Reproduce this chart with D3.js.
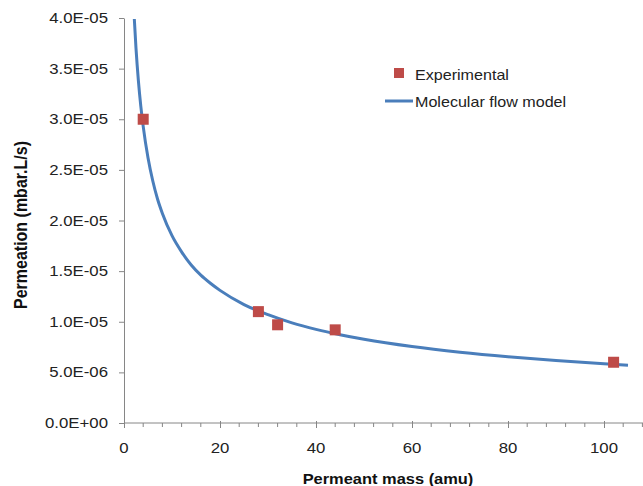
<!DOCTYPE html>
<html><head><meta charset="utf-8">
<script src="https://cdn.jsdelivr.net/npm/d3@7"></script>
<style>body{margin:0;background:#fff}svg{display:block}text{font-family:"Liberation Sans",Arial,sans-serif}</style>
</head><body>
<svg id="c" width="643" height="486"></svg>
<script>
const expMass = [4, 28, 32, 44, 102];
const expPerm = [3.0e-5, 1.10e-5, 9.7e-6, 9.2e-6, 6.0e-6];
const modelMass = [2.15, 2.5, 3, 3.5, 4, 5, 6, 7, 8, 10, 12, 14, 16, 18, 20, 25, 30, 35, 40, 45, 50, 60, 70, 80, 90, 100, 105];
const modelPerm = [3.99e-5, 3.70e-5, 3.38e-5, 3.13e-5, 2.93e-5, 2.62e-5, 2.39e-5, 2.21e-5, 2.07e-5, 1.85e-5, 1.69e-5, 1.56e-5, 1.46e-5, 1.38e-5, 1.31e-5, 1.17e-5, 1.07e-5, 9.89e-6, 9.25e-6, 8.72e-6, 8.27e-6, 7.55e-6, 6.99e-6, 6.54e-6, 6.17e-6, 5.85e-6, 5.71e-6];
const xTicks = [0, 20, 40, 60, 80, 100];
const yTicks = [0, 5e-6, 1e-5, 1.5e-5, 2e-5, 2.5e-5, 3e-5, 3.5e-5, 4e-5];
const yTickLabels = ["0.0E+00","5.0E-06","1.0E-05","1.5E-05","2.0E-05","2.5E-05","3.0E-05","3.5E-05","4.0E-05"];
const seriesNames = ["Experimental", "Molecular flow model"];

const SX = 1.15; // horizontal stretch of the lettering
const svg = d3.select("#c");
const x = d3.scaleLinear().domain([0, 108]).range([124, 642.4]);
const y = d3.scaleLinear().domain([0, 4e-5]).range([423, 18]);
const axisCol = "#868686";

function label(px, py, str, opts = {}) {
  const t = svg.append("text")
    .attr("transform", `translate(${px},${py}) scale(${SX},1)` + (opts.rot ? " rotate(-90)" : ""))
    .attr("font-size", opts.size || 14).attr("fill", opts.fill || "#222")
    .attr("text-anchor", opts.anchor || "start").text(str);
  if (opts.bold) t.attr("font-weight", "bold");
  return t;
}

// y axis
const yAx = svg.append("g").attr("transform", "translate(124,0)")
  .call(d3.axisLeft(y).tickValues(yTicks).tickSize(5).tickSizeOuter(0).tickFormat(() => ""));
yAx.select(".domain").attr("stroke", axisCol);
yAx.selectAll(".tick line").attr("stroke", axisCol);
yTicks.forEach((v, i) => label(108, y(v) + 5, yTickLabels[i], { anchor: "end", size: 14.6 }));

// x axis minor ticks
const minor = d3.range(0, 109, 4).filter(v => v % 20 !== 0);
svg.append("g").selectAll("line").data(minor).join("line")
  .attr("x1", d => x(d)).attr("x2", d => x(d)).attr("y1", 423).attr("y2", 427)
  .attr("stroke", axisCol);
const xAx = svg.append("g").attr("transform", "translate(0,423)")
  .call(d3.axisBottom(x).tickValues(xTicks).tickSize(5).tickSizeOuter(0).tickFormat(() => ""));
xAx.select(".domain").attr("stroke", axisCol).attr("d", "M124,0H643");
xAx.selectAll(".tick line").attr("stroke", axisCol).attr("y1", -2);
xTicks.forEach(v => label(x(v), 453, d3.format("d")(v), { anchor: "middle", size: 14.6 }));

// titles
label(388, 484, "Permeant mass (amu)", { anchor: "middle", bold: true, fill: "#111", size: 14.3 });
label(27, 225, "Permeation (mbar.L/s)", { anchor: "middle", bold: true, fill: "#111", rot: true, size: 16 });

// model line
const model = modelMass.map((m, i) => [m, modelPerm[i]]);
svg.append("path").datum(model)
  .attr("d", d3.line().x(d => x(d[0])).y(d => y(d[1])).curve(d3.curveMonotoneX))
  .attr("fill", "none").attr("stroke", "#4a7ebb").attr("stroke-width", 3);

// experimental points
svg.append("g").selectAll("rect").data(expMass.map((m, i) => [m, expPerm[i]])).join("rect")
  .attr("x", d => x(d[0]) - 5.5).attr("y", d => y(d[1]) - 5.5)
  .attr("width", 11).attr("height", 11).attr("fill", "#be4b48");

// legend
svg.append("rect").attr("x", 394).attr("y", 68).attr("width", 10).attr("height", 10).attr("fill", "#be4b48");
svg.append("line").attr("x1", 385).attr("x2", 413).attr("y1", 101).attr("y2", 101)
  .attr("stroke", "#4a7ebb").attr("stroke-width", 3);
label(415, 80, seriesNames[0]);
label(415, 107, seriesNames[1]);
</script>
</body></html>
